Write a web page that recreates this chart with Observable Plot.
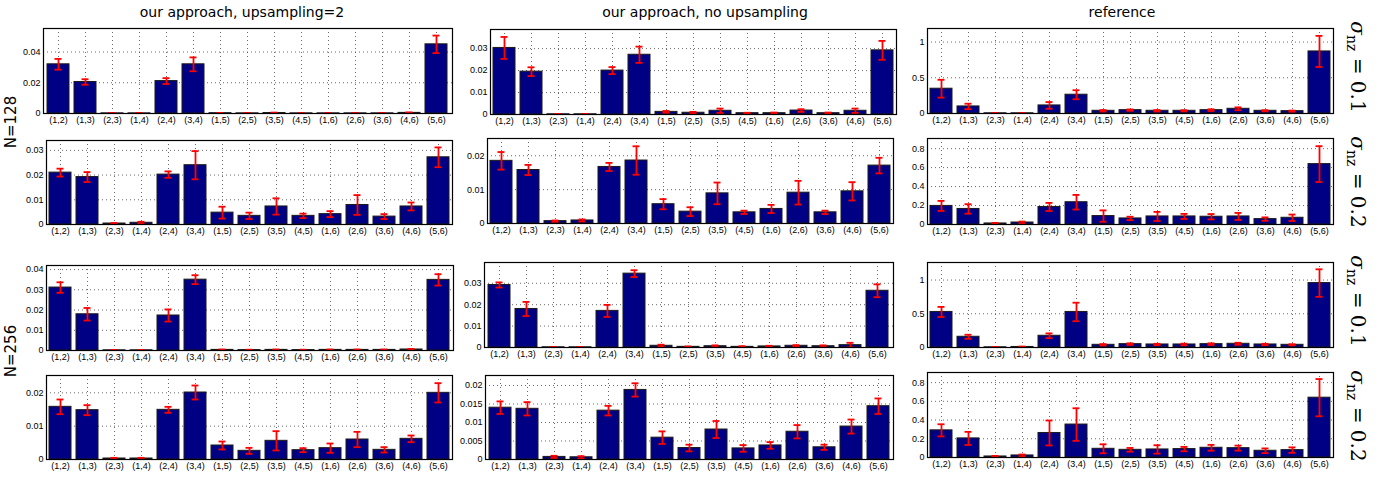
<!DOCTYPE html>
<html><head><meta charset="utf-8">
<script src="https://cdn.jsdelivr.net/npm/d3@7"></script>
<script src="https://cdn.jsdelivr.net/npm/@observablehq/plot@0.6"></script>
<style>
body{margin:0;background:#fff;}
#root{position:relative;width:1392px;height:479px;overflow:hidden;background:#fff;}
.panel{position:absolute;}
.title{position:absolute;font-family:"DejaVu Sans",sans-serif;font-size:14px;color:#000;white-space:nowrap;transform:translate(-50%,-50%);}
.rowlab{position:absolute;font-family:"DejaVu Sans",sans-serif;font-size:15px;white-space:nowrap;transform:translate(-50%,-50%) rotate(-90deg);}
.sig{position:absolute;font-family:"DejaVu Serif",serif;font-size:20px;white-space:nowrap;transform:translate(-50%,-50%) rotate(90deg);}
.sig i{font-style:italic;}
.sig sub{font-size:14px;vertical-align:-4px;}
</style></head><body><div id="root"></div>
<script>
// ---------------- data ----------------
const pairs = ["(1,2)","(1,3)","(2,3)","(1,4)","(2,4)","(3,4)","(1,5)","(2,5)","(3,5)","(4,5)","(1,6)","(2,6)","(3,6)","(4,6)","(5,6)"];
const columnTitles = ["our approach, upsampling=2","our approach, no upsampling","reference"];
const rowGroups = ["N=128","N=256"];
const sigmaLabels = ["0.1","0.2","0.1","0.2"];

// N=128, sigma=0.1
const up_128_01   = [0.032,0.0205,0.0001,0.0001,0.0211,0.032,0.0002,0.0001,0.0003,0.0001,0.0001,0.0001,0.0001,0.0004,0.045];
const up_128_01e  = [0.0035,0.0018,0.0002,0.0002,0.0019,0.0045,0.0002,0.0002,0.0003,0.0001,0.0002,0.0002,0.0002,0.0003,0.0057];
const no_128_01   = [0.0303,0.0195,0.0001,0.0001,0.02,0.0272,0.0012,0.0008,0.0017,0.0006,0.0006,0.0018,0.0006,0.0017,0.0292];
const no_128_01e  = [0.005,0.002,0.0001,0.0001,0.0016,0.0037,0.0004,0.0004,0.001,0.0002,0.0003,0.0006,0.0003,0.001,0.0043];
const ref_128_01  = [0.347,0.099,0.003,0.003,0.113,0.263,0.038,0.047,0.038,0.038,0.047,0.066,0.038,0.033,0.869];
const ref_128_01e = [0.125,0.038,0.004,0.004,0.047,0.063,0.01,0.01,0.01,0.008,0.012,0.02,0.008,0.008,0.218];
// N=128, sigma=0.2
const up_128_02   = [0.021,0.0192,0.0004,0.0007,0.0202,0.024,0.0048,0.0035,0.0073,0.0035,0.0042,0.0079,0.0032,0.0073,0.0272];
const up_128_02e  = [0.0016,0.002,0.0002,0.0004,0.0013,0.0057,0.0024,0.0013,0.0033,0.0009,0.0012,0.004,0.001,0.0016,0.004];
const no_128_02   = [0.0185,0.0158,0.0007,0.0009,0.0167,0.0186,0.0057,0.0035,0.0089,0.0033,0.0043,0.0091,0.0033,0.0095,0.0171];
const no_128_02e  = [0.0026,0.0015,0.0002,0.0003,0.0012,0.0042,0.0015,0.0013,0.0032,0.0005,0.0012,0.0035,0.0005,0.0027,0.0023];
const ref_128_02  = [0.196,0.164,0.011,0.021,0.185,0.235,0.089,0.064,0.085,0.085,0.082,0.085,0.057,0.071,0.637];
const ref_128_02e = [0.053,0.05,0.006,0.01,0.043,0.077,0.06,0.018,0.048,0.027,0.028,0.037,0.018,0.034,0.189];
// N=256, sigma=0.1
const up_256_01   = [0.0311,0.0179,0.0001,0.0001,0.0173,0.035,0.0003,0.0002,0.0003,0.0002,0.0003,0.0003,0.0003,0.0005,0.0349];
const up_256_01e  = [0.0026,0.0031,0.0002,0.0002,0.003,0.0022,0.0002,0.0002,0.0002,0.0002,0.0002,0.0002,0.0002,0.0003,0.0028];
const no_256_01   = [0.0292,0.018,0.0001,0.0001,0.0171,0.0345,0.0008,0.0003,0.0006,0.0003,0.0005,0.0008,0.0006,0.0011,0.0265];
const no_256_01e  = [0.0012,0.0033,0.0001,0.0001,0.0028,0.0016,0.0005,0.0002,0.0004,0.0003,0.0003,0.0003,0.0004,0.0011,0.003];
const ref_256_01  = [0.527,0.159,0.003,0.008,0.174,0.527,0.04,0.05,0.045,0.045,0.05,0.055,0.045,0.04,0.955];
const ref_256_01e = [0.075,0.03,0.004,0.006,0.035,0.137,0.01,0.012,0.01,0.012,0.012,0.015,0.01,0.008,0.204];
// N=256, sigma=0.2
const up_256_02   = [0.0158,0.0148,0.0003,0.0003,0.0149,0.0201,0.0042,0.0026,0.0056,0.0028,0.0034,0.006,0.0029,0.0062,0.02];
const up_256_02e  = [0.0022,0.0015,0.0002,0.0002,0.0009,0.0021,0.0012,0.0009,0.0029,0.0006,0.0014,0.0023,0.0008,0.001,0.0029];
const no_256_02   = [0.014,0.0137,0.0007,0.0006,0.0132,0.0188,0.0059,0.0031,0.0081,0.003,0.0038,0.0075,0.0033,0.0089,0.0144];
const no_256_02e  = [0.0017,0.0018,0.0003,0.0003,0.0013,0.0018,0.0017,0.0009,0.0023,0.0009,0.0009,0.0018,0.0007,0.0019,0.0021];
const ref_256_02  = [0.29,0.204,0.011,0.022,0.262,0.352,0.093,0.082,0.086,0.09,0.104,0.1,0.072,0.079,0.639];
const ref_256_02e = [0.065,0.07,0.006,0.01,0.133,0.174,0.048,0.02,0.045,0.023,0.031,0.027,0.025,0.029,0.199];

// y-axis limits and tick labels per panel (row-major)
const yMax = [0.0553,0.0387,1.19, 0.034,0.0251,0.907, 0.042,0.0397,1.26, 0.0252,0.0227,0.908];
const yTicks = [
  [0,0.02,0.04],[0,0.01,0.02,0.03],[0,0.5,1],
  [0,0.01,0.02,0.03],[0,0.01,0.02],[0,0.2,0.4,0.6,0.8],
  [0,0.01,0.02,0.03,0.04],[0,0.01,0.02,0.03],[0,0.5,1],
  [0,0.01,0.02],[0,0.005,0.01,0.015,0.02],[0,0.2,0.4,0.6,0.8]
];
const panelValues = [up_128_01,no_128_01,ref_128_01, up_128_02,no_128_02,ref_128_02, up_256_01,no_256_01,ref_256_01, up_256_02,no_256_02,ref_256_02];
const panelErrors = [up_128_01e,no_128_01e,ref_128_01e, up_128_02e,no_128_02e,ref_128_02e, up_256_01e,no_256_01e,ref_256_01e, up_256_02e,no_256_02e,ref_256_02e];

// ---------------- layout ----------------
// frame boxes [left, top, right, bottom]
const frames = [
  [43,28,452,113],[490,29,896,114],[927,28,1333,113],
  [46,140,452,224],[487,138,893,223],[927,138,1333,224],
  [46,265,453,350],[484,262,893,347],[927,262,1333,347],
  [46,375,452,459],[485,375,893,459],[927,372,1333,457]
];
const root = document.getElementById("root");
const mL = 42, mR = 3, mT = 3, mB = 18;
const fmt = d3.format("~g");

panelValues.forEach((vals, k) => {
  const errs = panelErrors[k];
  const [l, t, r, b] = frames[k];
  const data = pairs.map((p, i) => ({p, v: vals[i], lo: vals[i] - errs[i], hi: vals[i] + errs[i]}));
  const chart = Plot.plot({
    width: (r - l) + mL + mR,
    height: (b - t) + mT + mB,
    marginLeft: mL, marginRight: mR, marginTop: mT, marginBottom: mB,
    x: {domain: pairs, paddingInner: 0.18, paddingOuter: 0.09, label: null},
    y: {domain: [0, yMax[k]], label: null},
    style: {fontFamily: "'Liberation Sans', Arial, sans-serif", fontSize: "9px", background: "transparent", overflow: "visible", color: "#000"},
    marks: [
      Plot.ruleY(yTicks[k], {stroke: "#444", strokeWidth: 0.8, strokeDasharray: "1,3"}),
      Plot.ruleX(pairs, {x: d => d, stroke: "#444", strokeWidth: 0.8, strokeDasharray: "1,3"}),
      Plot.barY(data, {x: "p", y: "v", fill: "#000084", stroke: "#1a1a1a", strokeWidth: 1}),
      Plot.ruleX(data, {x: "p", y1: "lo", y2: "hi", stroke: "#ff0000", strokeWidth: 1.8, clip: true}),
      Plot.tickY(data, {x: "p", y: "hi", stroke: "#ff0000", strokeWidth: 1.8, insetLeft: 7.5, insetRight: 7.5, clip: true}),
      Plot.tickY(data, {x: "p", y: "lo", stroke: "#ff0000", strokeWidth: 1.8, insetLeft: 7.5, insetRight: 7.5, clip: true}),
      Plot.axisY(yTicks[k], {tickSize: 0, tickPadding: 3, tickFormat: fmt, fontSize: 9, label: null}),
      Plot.axisX({tickSize: 0, tickPadding: 3, fontSize: 9, label: null}),
      Plot.frame({stroke: "#000", strokeWidth: 1.2})
    ]
  });
  const div = document.createElement("div");
  div.className = "panel";
  div.style.left = (l - mL) + "px";
  div.style.top = (t - mT) + "px";
  div.appendChild(chart);
  root.appendChild(div);
});

// column titles
const titleX = [242, 705, 1122];
columnTitles.forEach((txt, i) => {
  const d = document.createElement("div");
  d.className = "title";
  d.textContent = txt;
  d.style.left = titleX[i] + "px";
  d.style.top = "12px";
  root.appendChild(d);
});
// row group labels
const rowY = [122, 351];
rowGroups.forEach((txt, i) => {
  const d = document.createElement("div");
  d.className = "rowlab";
  d.textContent = txt;
  d.style.left = "11px";
  d.style.top = rowY[i] + "px";
  root.appendChild(d);
});
// sigma labels
const sigY = [67, 182, 301, 416];
sigmaLabels.forEach((s, i) => {
  const d = document.createElement("div");
  d.className = "sig";
  d.innerHTML = "<i>σ</i><sub>nz</sub> = " + s;
  d.style.left = "1357px";
  d.style.top = sigY[i] + "px";
  root.appendChild(d);
});
</script>
</body></html>
